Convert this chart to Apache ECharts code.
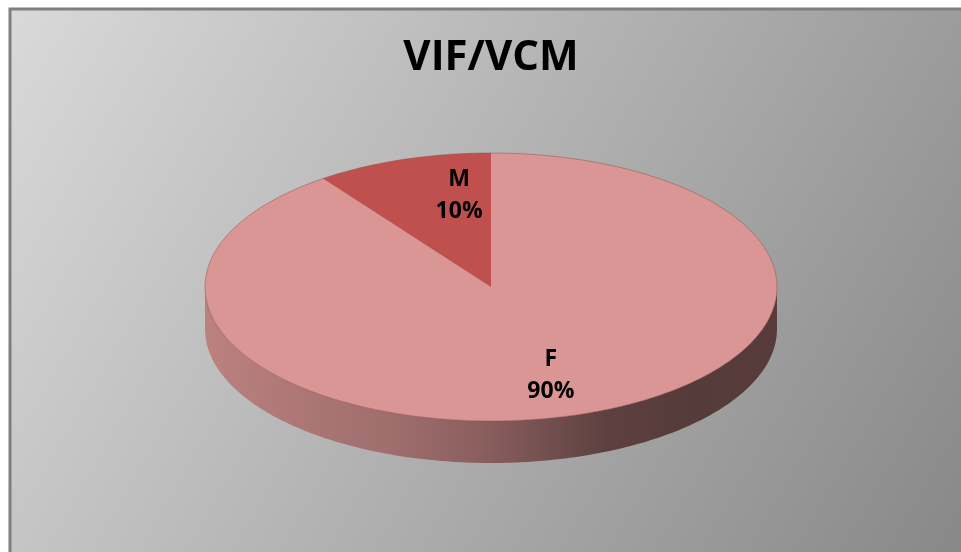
<!DOCTYPE html>
<html>
<head>
<meta charset="utf-8">
<title>VIF/VCM</title>
<script src="https://cdn.jsdelivr.net/npm/echarts@6/dist/echarts.min.js"></script>
<style>
  html, body { margin: 0; padding: 0; background: #ffffff; }
  #chart { width: 961px; height: 552px; }
</style>
</head>
<body>
<div id="chart"></div>
<script>
// Chart data
const chartTitle = 'VIF/VCM';
const categories = ['F', 'M'];
const shares = [90, 10];
const sliceColors = ['#d99694', '#c0504d'];

// Layout of the tilted pie (ellipse centre, radii, wall height)
const pie = { cx: 491, cy: 287, rx: 286, ry: 134, depth: 42 };
const labelRadius = 0.7;
const labelNudge = [[-2, -1], [30, -2]];

// Wall shading from the lit left side to the dark right side
const wallShade = [[0, 0.86], [0.35, 0.72], [0.5, 0.62], [0.7, 0.43], [0.85, 0.39], [1, 0.40]];

function shade(hex, f) {
  const n = parseInt(hex.slice(1), 16);
  const r = Math.round(((n >> 16) & 255) * f);
  const g = Math.round(((n >> 8) & 255) * f);
  const b = Math.round((n & 255) * f);
  return 'rgb(' + r + ',' + g + ',' + b + ')';
}

function pt(deg, dy) {
  const t = deg * Math.PI / 180;
  return [pie.cx + pie.rx * Math.cos(t), pie.cy - pie.ry * Math.sin(t) + (dy || 0)];
}

function arc(from, to, dy) {
  const pts = [];
  const steps = Math.max(2, Math.ceil(Math.abs(to - from)));
  for (let i = 0; i <= steps; i++) {
    pts.push(pt(from + (to - from) * i / steps, dy));
  }
  return pts;
}

const total = shares.reduce((a, b) => a + b, 0);
let running = 0;
const seriesData = categories.map((name, i) => {
  const item = { name: name, value: [i, shares[i], running, total] };
  running += shares[i];
  return item;
});

function renderSlice(params, api) {
  const value = api.value(1);
  const before = api.value(2);
  const sum = api.value(3);
  const color = sliceColors[params.dataIndex % sliceColors.length];
  // clockwise from twelve o'clock
  const a1 = 90 - 360 * before / sum;
  const a2 = a1 - 360 * value / sum;
  const children = [];

  // outer wall: only the front half (angles in (-180, 0) modulo 360) is visible
  for (let k = -1; k <= 1; k++) {
    const lo = Math.max(a2, -180 + 360 * k);
    const hi = Math.min(a1, 360 * k);
    if (hi > lo) {
      const top = arc(lo, hi, 0);
      const bottom = arc(hi, lo, pie.depth);
      children.push({
        type: 'polygon',
        shape: { points: top.concat(bottom) },
        style: {
          fill: new echarts.graphic.LinearGradient(
            pie.cx - pie.rx, 0, pie.cx + pie.rx, 0,
            wallShade.map(s => ({ offset: s[0], color: shade(color, s[1]) })),
            true
          ),
          stroke: null
        }
      });
    }
  }

  // top face
  children.push({
    type: 'polygon',
    shape: { points: [[pie.cx, pie.cy]].concat(arc(a1, a2, 0)) },
    style: { fill: color, stroke: null }
  });
  children.push({
    type: 'polyline',
    shape: { points: arc(a1, a2, 0) },
    style: { fill: null, stroke: 'rgba(140,70,68,0.45)', lineWidth: 1 }
  });

  // data label: category name and share
  const mid = (a1 + a2) / 2 * Math.PI / 180;
  const nudge = labelNudge[params.dataIndex] || [0, 0];
  const lx = pie.cx + pie.rx * labelRadius * Math.cos(mid) + nudge[0];
  const ly = pie.cy - pie.ry * labelRadius * Math.sin(mid) + nudge[1];
  children.push({
    type: 'text',
    z2: 10,
    style: {
      text: categories[params.dataIndex] + '\n' + Math.round(value / sum * 100) + '%',
      x: lx,
      y: ly,
      align: 'center',
      verticalAlign: 'middle',
      fill: '#000000',
      fontFamily: 'Open Sans',
      fontWeight: 'bold',
      fontSize: 23,
      lineHeight: 32
    }
  });

  return { type: 'group', children: children };
}

const chart = echarts.init(document.getElementById('chart'), null, { renderer: 'canvas' });
chart.setOption({
  animation: false,
  graphic: [
    {
      type: 'rect',
      z: -10,
      silent: true,
      shape: { x: 10, y: 9, width: 1000, height: 600 },
      style: {
        fill: new echarts.graphic.LinearGradient(0, 0, 961, 552, [
          { offset: 0, color: '#dadada' },
          { offset: 1, color: '#888888' }
        ], true),
        stroke: '#7f7f7f',
        lineWidth: 3
      }
    },
    {
      type: 'text',
      z: 10,
      silent: true,
      style: {
        text: chartTitle,
        x: 491,
        y: 58,
        align: 'center',
        verticalAlign: 'middle',
        fill: '#000000',
        fontFamily: 'Open Sans',
        fontWeight: 'bold',
        fontSize: 42
      }
    }
  ],
  series: [
    {
      type: 'custom',
      coordinateSystem: 'none',
      colorBy: 'data',
      renderItem: renderSlice,
      data: seriesData
    }
  ]
});
</script>
</body>
</html>
